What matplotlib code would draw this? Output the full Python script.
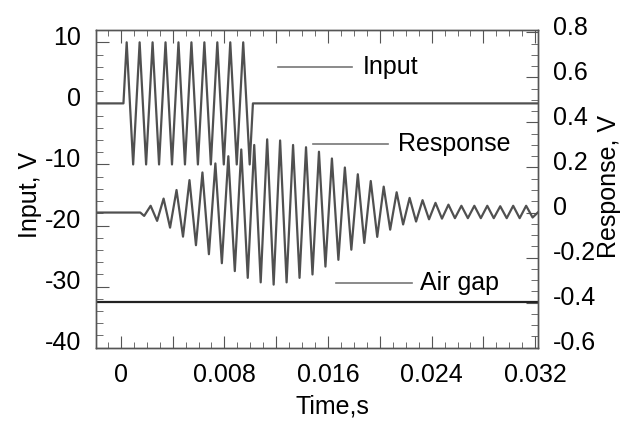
import matplotlib
matplotlib.use('Agg')
import matplotlib.pyplot as plt
from matplotlib.ticker import MultipleLocator, FixedLocator
from matplotlib.transforms import ScaledTranslation

# Input burst: 10 cycles, extrema
input_time = [-0.0019, 0.0002,
              0.00045, 0.00095, 0.00145, 0.00195, 0.00245,
              0.00295, 0.00345, 0.00395, 0.00445, 0.00495,
              0.00545, 0.00595, 0.00645, 0.00695, 0.00745,
              0.00795, 0.00845, 0.00895, 0.00945, 0.00995,
              0.0102, 0.0322]
input_volt = [0, 0,
              10, -10, 10, -10, 10,
              -10, 10, -10, 10, -10,
              10, -10, 10, -10, 10,
              -10, 10, -10, 10, -10,
              0, 0]

# Response (right axis), extrema
resp_time = [-0.0019, 0.0015,
             0.0018, 0.0023, 0.0028, 0.0033, 0.0038, 0.0043, 0.0048, 0.0053,
             0.0058, 0.0063, 0.0068, 0.0073, 0.0078, 0.0083, 0.0088, 0.0093,
             0.0098, 0.0103, 0.0108, 0.0113, 0.0118, 0.0123, 0.0128, 0.0133,
             0.0138, 0.0143, 0.0148, 0.0153, 0.0158, 0.0163, 0.0168, 0.0173,
             0.0178, 0.0183, 0.0188, 0.0193, 0.0198, 0.0203, 0.0208, 0.0213,
             0.0218, 0.0223, 0.0228, 0.0233, 0.0238, 0.0243, 0.0248, 0.0253,
             0.0258, 0.0263, 0.0268, 0.0273, 0.0278, 0.0283, 0.0288, 0.0293,
             0.0298, 0.0303, 0.0308, 0.0313, 0.0318, 0.0322]
resp_volt = [0, 0,
             -0.015, 0.03, -0.037, 0.062, -0.067, 0.10, -0.107, 0.144,
             -0.145, 0.178, -0.185, 0.218, -0.225, 0.25, -0.26, 0.28,
             -0.29, 0.30, -0.31, 0.325, -0.32, 0.32, -0.31, 0.30,
             -0.29, 0.29, -0.275, 0.27, -0.24, 0.24, -0.21, 0.20,
             -0.165, 0.17, -0.135, 0.14, -0.108, 0.115, -0.076, 0.09,
             -0.053, 0.065, -0.04, 0.055, -0.03, 0.043, -0.027, 0.035,
             -0.025, 0.03, -0.025, 0.03, -0.025, 0.03, -0.025, 0.028,
             -0.025, 0.03, -0.025, 0.03, -0.022, 0.0]

air_time = [-0.0019, 0.0322]
air_volt = [-32.6, -32.6]

x_ticks = [0, 0.004, 0.008, 0.012, 0.016, 0.020, 0.024, 0.028, 0.032]
x_labels = ['0', '', '0.008', '', '0.016', '', '0.024', '', '0.032']
left_ticks = [10, 0, -10, -20, -30, -40]
right_ticks = [0.8, 0.6, 0.4, 0.2, 0, -0.2, -0.4, -0.6]
right_labels = ['0.8', '0.6', '0.4', '0.2', '0', '-0.2', '-0.4', '-0.6']

plt.rcParams['font.family'] = ['Liberation Sans', 'DejaVu Sans']
plt.rcParams['font.size'] = 18

fig = plt.figure(figsize=(6.21, 4.24), dpi=100)
ax = fig.add_axes([0.155, 0.180, 0.711, 0.749])
ax2 = ax.twinx()

line_col = '#505050'
ax.plot(input_time, input_volt, color=line_col, lw=1.6)
ax.plot(air_time, air_volt, color='#222222', lw=1.6)
ax2.plot(resp_time, resp_volt, color=line_col, lw=1.6)

ax.set_xlim(-0.0019, 0.0322)
ax.set_ylim(-40, 12)
ax2.set_ylim(-0.6, 0.81)

ax.xaxis.set_major_locator(FixedLocator(x_ticks))
ax.set_xticklabels(x_labels)
ax.xaxis.set_minor_locator(MultipleLocator(0.001))
ax.set_yticks(left_ticks)
ax.set_yticklabels([str(v) for v in left_ticks])
ax.yaxis.set_minor_locator(MultipleLocator(2))
ax2.set_yticks(right_ticks)
ax2.set_yticklabels(right_labels)
ax2.yaxis.set_minor_locator(MultipleLocator(0.05))

spine_col = '#555555'
for a in (ax, ax2):
    for s in a.spines.values():
        s.set_color(spine_col)
        s.set_linewidth(1.0)

ax.tick_params(axis='x', which='both', direction='in', top=True, bottom=True,
               color=spine_col, pad=11)
ax.tick_params(axis='x', which='major', length=9)
ax.tick_params(axis='x', which='minor', length=4)
ax.tick_params(axis='y', which='both', direction='in', left=True, right=False,
               color=spine_col, pad=11)
ax.tick_params(axis='y', which='major', length=9)
ax.tick_params(axis='y', which='minor', length=5)
ax2.tick_params(axis='y', which='both', direction='in', color=spine_col, pad=11)
ax2.tick_params(axis='y', which='major', length=9)
ax2.tick_params(axis='y', which='minor', length=5)

# tick labels sit a bit above their ticks in the original
shift = ScaledTranslation(0, 5 / 72, fig.dpi_scale_trans)
for lab in ax.get_yticklabels() + ax2.get_yticklabels():
    lab.set_transform(lab.get_transform() + shift)

# in-plot labels
ax.plot([0.411, 0.580], [0.884, 0.884], color='#777777', lw=1.2, transform=ax.transAxes)
ax.text(0.603, 0.884, 'Input', transform=ax.transAxes, va='center', ha='left')
ax.plot([0.492, 0.661], [0.642, 0.642], color='#777777', lw=1.2, transform=ax.transAxes)
ax.text(0.684, 0.642, 'Response', transform=ax.transAxes, va='center', ha='left')
ax.plot([0.542, 0.716], [0.204, 0.204], color='#777777', lw=1.2, transform=ax.transAxes)
ax.text(0.734, 0.204, 'Air gap', transform=ax.transAxes, va='center', ha='left')

fig.text(0.048, 0.54, 'Input, V', rotation=90, ha='center', va='center')
fig.text(0.980, 0.56, 'Response, V', rotation=90, ha='center', va='center')
fig.text(0.536, 0.042, 'Time,s', ha='center', va='center')

fig.savefig('out.png', dpi=100)
